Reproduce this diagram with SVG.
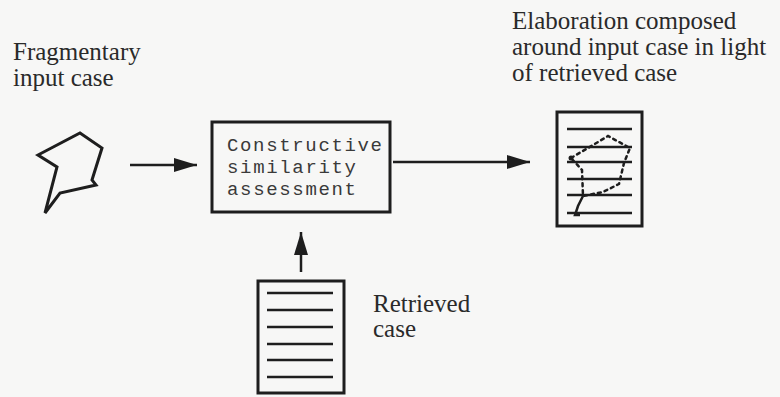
<svg xmlns="http://www.w3.org/2000/svg" width="780" height="397" viewBox="0 0 780 397">
  <defs>
    <marker id="ah" markerUnits="userSpaceOnUse" markerWidth="24" markerHeight="14" refX="23" refY="7" orient="auto">
      <path d="M0,0 L23,7 L0,14 z" fill="#1e1e1e"/>
    </marker>
  </defs>
  <style>
    .lbl { font-family: "Liberation Serif", "Times New Roman", "DejaVu Serif", serif; font-size: 25px; fill: #2a2a2a; }
    .mono { font-family: "Liberation Mono", "Courier New", monospace; font-size: 19px; fill: #3a3a3a; }
    .box { fill: none; stroke: #1e1e1e; stroke-width: 3; }
    .rule { stroke: #1e1e1e; stroke-width: 2.5; }
    .conn { stroke: #1e1e1e; stroke-width: 2.5; fill: none; marker-end: url(#ah); }
  </style>
  <rect width="780" height="397" fill="#f7f7f6"/>

  <g id="input-case">
    <polygon points="38,155 80,133 102,148 92,180 96,185 60,193 45,213 57,167" fill="none" stroke="#1e1e1e" stroke-width="3" stroke-linejoin="miter"/>
    <text class="lbl" x="13" y="60">Fragmentary</text>
    <text class="lbl" x="13" y="86">input case</text>
  </g>

  <g id="assessment">
    <rect class="box" x="212" y="122" width="178" height="90"/>
    <text class="mono" x="227" y="151" textLength="155" lengthAdjust="spacing">Constructive</text>
    <text class="mono" x="227" y="173" textLength="129" lengthAdjust="spacing">similarity</text>
    <text class="mono" x="227" y="195" textLength="129" lengthAdjust="spacing">assessment</text>
  </g>

  <g id="elaboration">
    <text class="lbl" x="512" y="29">Elaboration composed</text>
    <text class="lbl" x="512" y="55">around input case in light</text>
    <text class="lbl" x="512" y="81">of retrieved case</text>
    <rect class="box" x="557" y="112" width="85" height="114"/>
    <line class="rule" x1="567" y1="129" x2="632" y2="129"/>
    <line class="rule" x1="567" y1="147" x2="632" y2="147"/>
    <line class="rule" x1="567" y1="162" x2="632" y2="162"/>
    <line class="rule" x1="567" y1="179" x2="632" y2="179"/>
    <line class="rule" x1="567" y1="195" x2="632" y2="195"/>
    <line class="rule" x1="567" y1="213" x2="632" y2="213"/>
    <path d="M571,158 L593,145 L608,136 L630,148 L624,163 L619,184 L603,192 L583,196 L582,170 Z" fill="none" stroke="#1e1e1e" stroke-width="2.5" stroke-dasharray="3 4" stroke-linecap="round"/>
    <path d="M583,196 L578,206 L575,215 L580,215" fill="none" stroke="#1e1e1e" stroke-width="2.5"/>
    <circle cx="571" cy="158" r="2.5" fill="#1e1e1e"/>
  </g>

  <g id="retrieved-case">
    <rect class="box" x="258" y="281" width="86" height="112"/>
    <line class="rule" x1="267" y1="293" x2="333" y2="293"/>
    <line class="rule" x1="267" y1="310" x2="333" y2="310"/>
    <line class="rule" x1="267" y1="327" x2="333" y2="327"/>
    <line class="rule" x1="267" y1="344" x2="333" y2="344"/>
    <line class="rule" x1="267" y1="360" x2="333" y2="360"/>
    <line class="rule" x1="267" y1="377" x2="333" y2="377"/>
    <text class="lbl" x="373" y="312">Retrieved</text>
    <text class="lbl" x="373" y="337">case</text>
  </g>

  <g id="connectors">
    <line class="conn" x1="130" y1="165" x2="197" y2="165"/>
    <line class="conn" x1="393" y1="162" x2="530" y2="162"/>
    <line class="conn" x1="301" y1="272" x2="301" y2="232"/>
  </g>
</svg>
